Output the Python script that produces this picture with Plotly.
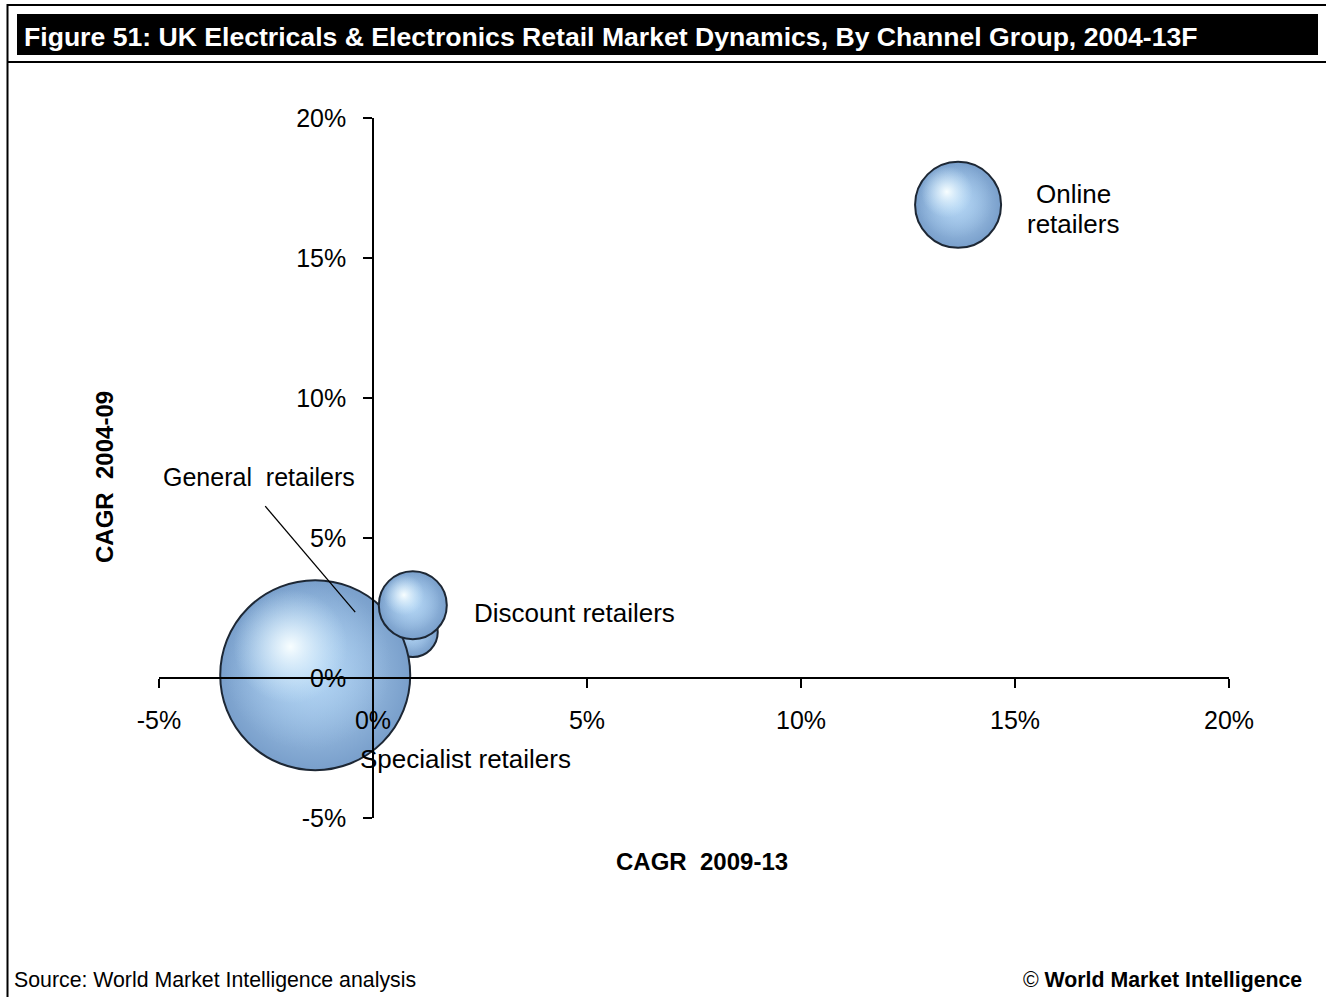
import plotly.graph_objects as go

# --- data -----------------------------------------------------------------
channels = ["Specialist retailers", "General retailers", "Discount retailers", "Online retailers"]
cagr_2009_13 = [0.93, -1.35, 0.93, 13.67]   # x, %
cagr_2004_09 = [1.64, 0.10, 2.60, 16.90]    # y, %
market_size = [6.9, 100.0, 12.8, 20.5]      # relative bubble size

x_ticks = [-5, 0, 5, 10, 15, 20]
x_tick_text = ["-5%", "0%", "5%", "10%", "15%", "20%"]
y_ticks = [-5, 0, 5, 10, 15, 20]
y_tick_text = ["-5%", "0%", "5%", "10%", "15%", "20%"]

# --- canvas geometry -------------------------------------------------------
W, H = 1326, 997
L, R, T, B = 159, 97, 118, 179
PW, PH = W - L - R, H - T - B
X_RANGE = [-5, 20]
Y_RANGE = [-5, 20]
ppx = PW / (X_RANGE[1] - X_RANGE[0])   # pixels per x unit
ppy = PH / (Y_RANGE[1] - Y_RANGE[0])   # pixels per y unit
MAX_DIAM = 190

FONT = "Arial, 'Liberation Sans', sans-serif"


def paper_x(px):
    return (px - L) / PW


def paper_y(py):
    return 1 - (py - T) / PH


diam = [MAX_DIAM * (s / max(market_size)) ** 0.5 for s in market_size]

fig = go.Figure()

# glossy spheres: body, soft glow and specular highlight per bubble
for name, x, y, d in zip(channels, cagr_2009_13, cagr_2004_09, diam):
    r = d / 2
    fig.add_trace(go.Scatter(
        x=[x], y=[y], mode="markers", name=name, showlegend=False, hoverinfo="skip",
        marker=dict(size=d, sizemode="diameter", color="#799fcb",
                    gradient=dict(type="radial", color="#b4d5f3"),
                    line=dict(color="#1d2734", width=2)),
    ))
    fig.add_trace(go.Scatter(
        x=[x - 0.08 * r / ppx], y=[y + 0.10 * r / ppy], mode="markers",
        showlegend=False, hoverinfo="skip",
        marker=dict(size=0.88 * d, color="rgba(160,198,236,0)",
                    gradient=dict(type="radial", color="rgba(180,214,244,0.9)"),
                    line=dict(width=0)),
    ))
    fig.add_trace(go.Scatter(
        x=[x - 0.26 * r / ppx], y=[y + 0.30 * r / ppy], mode="markers",
        showlegend=False, hoverinfo="skip",
        marker=dict(size=0.6 * d, color="rgba(205,233,252,0)",
                    gradient=dict(type="radial", color="rgba(248,254,255,1)"),
                    line=dict(width=0)),
    ))

# --- bubble labels -----------------------------------------------------------
label_font = dict(family=FONT, size=26, color="black")
label_style = dict(showarrow=False, xref="x", yref="y")
pos = {n: (x, y) for n, x, y in zip(channels, cagr_2009_13, cagr_2004_09)}

gx, gy = pos["General retailers"]
fig.add_annotation(x=gx, y=gy, text="General  retailers", xanchor="center", yanchor="middle",
                   xshift=-56, yshift=198, font=dict(label_font, size=25), **label_style)
fig.add_shape(type="line", xref="x", yref="y",
              x0=gx - 50 / ppx, y0=gy + 169 / ppy, x1=gx + 40 / ppx, y1=gy + 63 / ppy,
              line=dict(color="black", width=1.3))

dx, dy = pos["Discount retailers"]
fig.add_annotation(x=dx, y=dy, text="Discount retailers", xanchor="left", yanchor="middle",
                   xshift=59, yshift=-8, font=label_font, **label_style)

ox, oy = pos["Online retailers"]
fig.add_annotation(x=ox, y=oy, text="Online", xanchor="center", yanchor="middle",
                   xshift=115, yshift=11, font=label_font, **label_style)
fig.add_annotation(x=ox, y=oy, text="retailers", xanchor="center", yanchor="middle",
                   xshift=115, yshift=-19, font=label_font, **label_style)

sx, sy = pos["Specialist retailers"]
fig.add_annotation(x=sx, y=sy, text="Specialist retailers", xanchor="center", yanchor="middle",
                   xshift=53, yshift=-127, font=label_font, **label_style)

# --- axis titles ------------------------------------------------------------
fig.add_annotation(x=paper_x(702), y=paper_y(861), xref="paper", yref="paper",
                   text="<b>CAGR  2009-13</b>", showarrow=False, xanchor="center", yanchor="middle",
                   font=dict(family=FONT, size=24, color="black"))
fig.add_annotation(x=paper_x(104), y=paper_y(477), xref="paper", yref="paper",
                   text="<b>CAGR  2004-09</b>", showarrow=False, textangle=-90,
                   xanchor="center", yanchor="middle",
                   font=dict(family=FONT, size=24, color="black"))

# --- header, frame and footer ----------------------------------------------
fig.add_shape(type="rect", xref="paper", yref="paper",
              x0=paper_x(17), x1=paper_x(1318), y0=paper_y(55), y1=paper_y(14),
              fillcolor="black", line=dict(width=0), layer="below")
for y_line in (5, 62):
    fig.add_shape(type="line", xref="paper", yref="paper",
                  x0=paper_x(7), x1=paper_x(1326), y0=paper_y(y_line), y1=paper_y(y_line),
                  line=dict(color="black", width=2))
fig.add_shape(type="line", xref="paper", yref="paper",
              x0=paper_x(7.5), x1=paper_x(7.5), y0=paper_y(4), y1=paper_y(997),
              line=dict(color="black", width=2))

fig.add_annotation(x=paper_x(22), y=paper_y(37), xref="paper", yref="paper",
                   text="<b>Figure 51: UK Electricals & Electronics Retail Market Dynamics, "
                        "By Channel Group, 2004-13F</b>",
                   showarrow=False, xanchor="left", yanchor="middle",
                   font=dict(family=FONT, size=26.6, color="white"))
fig.add_annotation(x=paper_x(12), y=paper_y(980), xref="paper", yref="paper",
                   text="Source: World Market Intelligence analysis",
                   showarrow=False, xanchor="left", yanchor="middle",
                   font=dict(family=FONT, size=21.3, color="black"))
fig.add_annotation(x=paper_x(1304), y=paper_y(980), xref="paper", yref="paper",
                   text="© <b>World Market Intelligence</b>",
                   showarrow=False, xanchor="right", yanchor="middle",
                   font=dict(family=FONT, size=21.3, color="black"))

# --- axes crossing at zero ------------------------------------------------------
axis_common = dict(showgrid=False, zeroline=False, showline=True, linecolor="black",
                   linewidth=1.5, ticks="outside", ticklen=9, tickwidth=1.5,
                   tickcolor="black", tickmode="array",
                   tickfont=dict(family=FONT, size=25, color="black"),
                   anchor="free", layer="above traces")
fig.update_layout(
    width=W, height=H,
    margin=dict(l=L, r=R, t=T, b=B),
    paper_bgcolor="white", plot_bgcolor="white",
    xaxis=dict(range=X_RANGE, tickvals=x_ticks, ticktext=x_tick_text, ticklabelstandoff=11,
               position=(0 - Y_RANGE[0]) / (Y_RANGE[1] - Y_RANGE[0]), **axis_common),
    yaxis=dict(range=Y_RANGE, tickvals=y_ticks, ticktext=y_tick_text, ticklabelstandoff=12,
               position=(0 - X_RANGE[0]) / (X_RANGE[1] - X_RANGE[0]), **axis_common),
    showlegend=False,
)

fig.write_html("out.html")
